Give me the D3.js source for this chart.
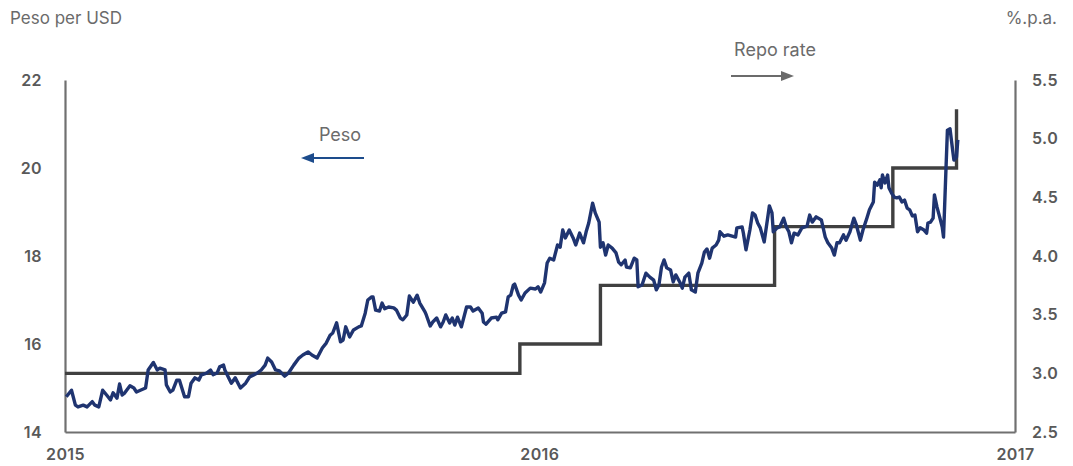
<!DOCTYPE html>
<html>
<head>
<meta charset="utf-8">
<script src="https://cdn.jsdelivr.net/npm/d3@7.9.0/dist/d3.min.js"></script>
<style>
  body { margin: 0; background: #fff; }
  svg text { font-family: Inter, "Open Sans", sans-serif; }
</style>
</head>
<body>
<div id="chart"></div>
<script>
// Peso per USD (left axis)
const pesoDates = [
  "2015-01-02","2015-01-06","2015-01-09","2015-01-11","2015-01-15","2015-01-18","2015-01-22","2015-01-24","2015-01-27","2015-01-30",
  "2015-02-02","2015-02-05","2015-02-07","2015-02-10","2015-02-12","2015-02-14","2015-02-16","2015-02-20","2015-02-23","2015-02-25",
  "2015-02-28","2015-03-04","2015-03-06","2015-03-10","2015-03-13","2015-03-15","2015-03-19","2015-03-20","2015-03-23","2015-03-25",
  "2015-03-28","2015-03-30","2015-04-03","2015-04-06","2015-04-08","2015-04-11","2015-04-14","2015-04-16","2015-04-20","2015-04-23",
  "2015-04-25","2015-04-28","2015-04-30","2015-05-03","2015-05-04","2015-05-07","2015-05-09","2015-05-12","2015-05-16","2015-05-20",
  "2015-05-23","2015-05-29","2015-06-01","2015-06-04","2015-06-06","2015-06-09","2015-06-12","2015-06-15","2015-06-19","2015-06-22",
  "2015-06-26","2015-06-30","2015-07-03","2015-07-07","2015-07-10","2015-07-14","2015-07-18","2015-07-21","2015-07-24","2015-07-26",
  "2015-07-29","2015-08-01","2015-08-03","2015-08-05","2015-08-08","2015-08-11","2015-08-15","2015-08-17","2015-08-20","2015-08-22",
  "2015-08-25","2015-08-26","2015-08-28","2015-08-31","2015-09-02","2015-09-04","2015-09-07","2015-09-11","2015-09-13","2015-09-16",
  "2015-09-18","2015-09-21","2015-09-23","2015-09-26","2015-09-29","2015-10-01","2015-10-05","2015-10-06","2015-10-09","2015-10-11",
  "2015-10-14","2015-10-17","2015-10-19","2015-10-21","2015-10-24","2015-10-26","2015-10-28","2015-10-30","2015-11-02","2015-11-06",
  "2015-11-09","2015-11-11","2015-11-15","2015-11-18","2015-11-19","2015-11-21","2015-11-25","2015-11-29","2015-11-30","2015-12-03",
  "2015-12-06","2015-12-08","2015-12-10","2015-12-12","2015-12-13","2015-12-16","2015-12-18","2015-12-21","2015-12-25","2015-12-29",
  "2015-12-31","2016-01-02","2016-01-05","2016-01-07","2016-01-09","2016-01-12","2016-01-15","2016-01-17","2016-01-19","2016-01-21",
  "2016-01-24","2016-01-27","2016-01-29","2016-02-01","2016-02-04","2016-02-06","2016-02-08","2016-02-11","2016-02-13","2016-02-16",
  "2016-02-17","2016-02-19","2016-02-21","2016-02-23","2016-02-26","2016-02-29","2016-03-02","2016-03-04","2016-03-07","2016-03-08",
  "2016-03-11","2016-03-14","2016-03-16","2016-03-17","2016-03-20","2016-03-23","2016-03-26","2016-03-29","2016-03-31","2016-04-02",
  "2016-04-04","2016-04-06","2016-04-08","2016-04-11","2016-04-13","2016-04-15","2016-04-18","2016-04-20","2016-04-22","2016-04-25",
  "2016-04-27","2016-04-30","2016-05-02","2016-05-05","2016-05-07","2016-05-09","2016-05-11","2016-05-13","2016-05-16","2016-05-18",
  "2016-05-19","2016-05-22","2016-05-25","2016-05-31","2016-06-01","2016-06-05","2016-06-06","2016-06-08","2016-06-11","2016-06-13",
  "2016-06-15","2016-06-17","2016-06-19","2016-06-22","2016-06-25","2016-06-26","2016-06-28","2016-06-29","2016-07-02","2016-07-04",
  "2016-07-07","2016-07-09","2016-07-11","2016-07-13","2016-07-15","2016-07-18","2016-07-21","2016-07-25","2016-07-27","2016-07-29",
  "2016-08-01","2016-08-05","2016-08-08","2016-08-10","2016-08-13","2016-08-15","2016-08-17","2016-08-19","2016-08-22","2016-08-24",
  "2016-08-27","2016-08-30","2016-09-01","2016-09-04","2016-09-06","2016-09-09","2016-09-11","2016-09-14","2016-09-15","2016-09-17",
  "2016-09-19","2016-09-20","2016-09-21","2016-09-23","2016-09-25","2016-09-26","2016-09-28","2016-09-30","2016-10-02","2016-10-04",
  "2016-10-06","2016-10-08","2016-10-10","2016-10-12","2016-10-14","2016-10-16","2016-10-18","2016-10-20","2016-10-23","2016-10-25",
  "2016-10-26","2016-10-28","2016-10-30","2016-10-31","2016-11-02","2016-11-04","2016-11-06","2016-11-07","2016-11-09","2016-11-10",
  "2016-11-12","2016-11-14","2016-11-15","2016-11-17","2016-11-18"
];
const pesoValues = [
  14.80,14.95,14.61,14.57,14.61,14.57,14.69,14.61,14.57,14.95,
  14.84,14.73,14.89,14.77,15.09,14.84,14.89,15.05,15.00,14.91,
  14.95,15.00,15.41,15.58,15.41,15.45,15.41,15.07,14.91,14.95,
  15.18,15.18,14.80,14.80,15.11,15.23,15.18,15.30,15.34,15.41,
  15.30,15.34,15.48,15.52,15.41,15.23,15.11,15.23,15.00,15.11,
  15.25,15.34,15.41,15.52,15.68,15.59,15.41,15.39,15.27,15.34,
  15.52,15.68,15.75,15.82,15.75,15.68,15.91,16.02,16.20,16.25,
  16.48,16.05,16.09,16.39,16.16,16.32,16.39,16.41,16.70,17.00,
  17.07,17.07,16.77,16.75,16.93,16.80,16.84,16.82,16.77,16.59,
  16.55,16.66,17.09,16.95,17.11,16.93,16.73,16.66,16.41,16.50,
  16.59,16.39,16.50,16.66,16.48,16.59,16.43,16.61,16.39,16.84,
  16.84,16.75,16.82,16.70,16.50,16.45,16.59,16.61,16.55,16.70,
  16.73,17.07,17.11,17.34,17.36,17.11,17.00,17.16,17.27,17.25,
  17.30,17.18,17.39,17.84,17.95,17.91,18.25,18.20,18.59,18.41,
  18.59,18.41,18.25,18.52,18.30,18.55,18.75,19.20,18.98,18.77,
  18.20,18.30,18.02,18.25,18.18,18.07,17.86,17.80,17.91,17.75,
  17.73,17.95,17.91,17.30,17.34,17.61,17.52,17.45,17.23,17.34,
  17.75,17.91,17.73,17.68,17.41,17.57,17.41,17.27,17.52,17.61,
  17.23,17.18,17.61,17.84,18.09,18.16,17.95,18.18,18.25,18.36,
  18.55,18.45,18.48,18.43,18.64,18.66,18.52,18.14,18.59,18.98,
  18.93,18.75,18.64,18.32,18.93,19.14,18.98,18.55,18.64,18.66,
  18.86,18.66,18.55,18.30,18.52,18.48,18.64,18.68,18.93,18.77,
  18.89,18.82,18.43,18.30,18.18,18.02,18.30,18.30,18.48,18.36,
  18.55,18.86,18.70,18.36,18.59,18.86,19.05,19.23,19.68,19.61,
  19.73,19.55,19.84,19.66,19.84,19.55,19.43,19.34,19.32,19.34,
  19.23,19.27,19.09,19.05,18.91,18.93,18.55,18.64,18.59,18.52,
  18.75,18.77,18.86,19.39,19.11,18.89,18.66,18.43,20.07,20.86,
  20.89,20.41,20.18,20.25,20.64
];

// Repo rate, %.p.a. (right axis), decision dates
const repoDates = ["2015-01-01","2015-12-17","2016-02-17","2016-06-30","2016-09-29","2016-11-17"];
const repoValues = [3.00, 3.25, 3.75, 4.25, 4.75, 5.25];

const yearTicks = ["2015-01-01","2016-01-01","2017-01-01"];
const leftTicks = [14, 16, 18, 20, 22];
const rightTicks = [2.5, 3.0, 3.5, 4.0, 4.5, 5.0, 5.5];

const W = 1073, H = 466;
const margin = { left: 65, right: 58, top: 80, bottom: 34 };
const parse = d3.timeParse("%Y-%m-%d");

const peso = pesoDates.map((d, i) => ({ date: parse(d), value: pesoValues[i] }));
const repo = repoDates.map((d, i) => ({ date: parse(d), value: repoValues[i] }));

const svg = d3.select("#chart").append("svg")
  .attr("width", W)
  .attr("height", H);

const x = d3.scaleTime()
  .domain([parse(yearTicks[0]), parse(yearTicks[2])])
  .range([margin.left, W - margin.right]);
const yL = d3.scaleLinear().domain([14, 22]).range([H - margin.bottom, margin.top]);
const yR = d3.scaleLinear().domain([2.5, 5.5]).range([H - margin.bottom, margin.top]);

const axisColor = "#707070";
const labelColor = "#595959";
const noteColor = "#6b6b6b";

function styleAxis(g) {
  g.select(".domain").attr("stroke", axisColor).attr("stroke-width", 2.2);
  g.selectAll(".tick line").remove();
  g.selectAll("text")
    .attr("fill", labelColor)
    .style("font-size", "16px")
    .style("font-weight", "600")
    .style("letter-spacing", "0.4px");
}

svg.append("g")
  .attr("transform", `translate(${margin.left},0)`)
  .call(d3.axisLeft(yL).tickValues(leftTicks).tickSize(0).tickPadding(23).tickFormat(d3.format("d")))
  .call(styleAxis);

svg.append("g")
  .attr("transform", `translate(${W - margin.right},0)`)
  .call(d3.axisRight(yR).tickValues(rightTicks).tickSize(0).tickPadding(17).tickFormat(d3.format(".1f")))
  .call(styleAxis);

svg.append("g")
  .attr("transform", `translate(0,${H - margin.bottom})`)
  .call(d3.axisBottom(x).tickValues(yearTicks.map(parse)).tickSize(0).tickPadding(17).tickFormat(d3.timeFormat("%Y")))
  .call(styleAxis);

// Repo rate step line
svg.append("path")
  .datum(repo)
  .attr("fill", "none")
  .attr("stroke", "#404040")
  .attr("stroke-width", 3.4)
  .attr("d", d3.line().curve(d3.curveStepAfter).x(d => x(d.date)).y(d => yR(d.value)));

// Peso line
svg.append("path")
  .datum(peso)
  .attr("fill", "none")
  .attr("stroke", "#1f3470")
  .attr("stroke-width", 3.4)
  .attr("stroke-linejoin", "round")
  .attr("d", d3.line().x(d => x(d.date)).y(d => yL(d.value)));

// Axis titles
svg.append("text")
  .attr("x", 10).attr("y", 24)
  .attr("fill", noteColor)
  .style("font-size", "17px")
  .text("Peso per USD");

svg.append("text")
  .attr("x", 1057).attr("y", 24)
  .attr("text-anchor", "end")
  .attr("fill", noteColor)
  .style("font-size", "17px")
  .text("%.p.a.");

// Arrow annotations
const defs = svg.append("defs");
function marker(id, color) {
  defs.append("marker")
    .attr("id", id)
    .attr("viewBox", "0 0 13 10")
    .attr("refX", 1).attr("refY", 5)
    .attr("markerUnits", "userSpaceOnUse")
    .attr("markerWidth", 13).attr("markerHeight", 10)
    .attr("orient", "auto")
    .append("path")
    .attr("d", "M0,0 L13,5 L0,10 Z")
    .attr("fill", color);
}
marker("arrowBlue", "#1d4c8c");
marker("arrowGray", noteColor);

svg.append("text")
  .attr("x", 340).attr("y", 141)
  .attr("text-anchor", "middle")
  .attr("fill", noteColor)
  .style("font-size", "18px")
  .text("Peso");
svg.append("line")
  .attr("x1", 364).attr("y1", 158).attr("x2", 313).attr("y2", 158)
  .attr("stroke", "#1d4c8c").attr("stroke-width", 2)
  .attr("marker-end", "url(#arrowBlue)");

svg.append("text")
  .attr("x", 775).attr("y", 56)
  .attr("text-anchor", "middle")
  .attr("fill", noteColor)
  .style("font-size", "18px")
  .text("Repo rate");
svg.append("line")
  .attr("x1", 731).attr("y1", 76).attr("x2", 782).attr("y2", 76)
  .attr("stroke", noteColor).attr("stroke-width", 2)
  .attr("marker-end", "url(#arrowGray)");
</script>
</body>
</html>
